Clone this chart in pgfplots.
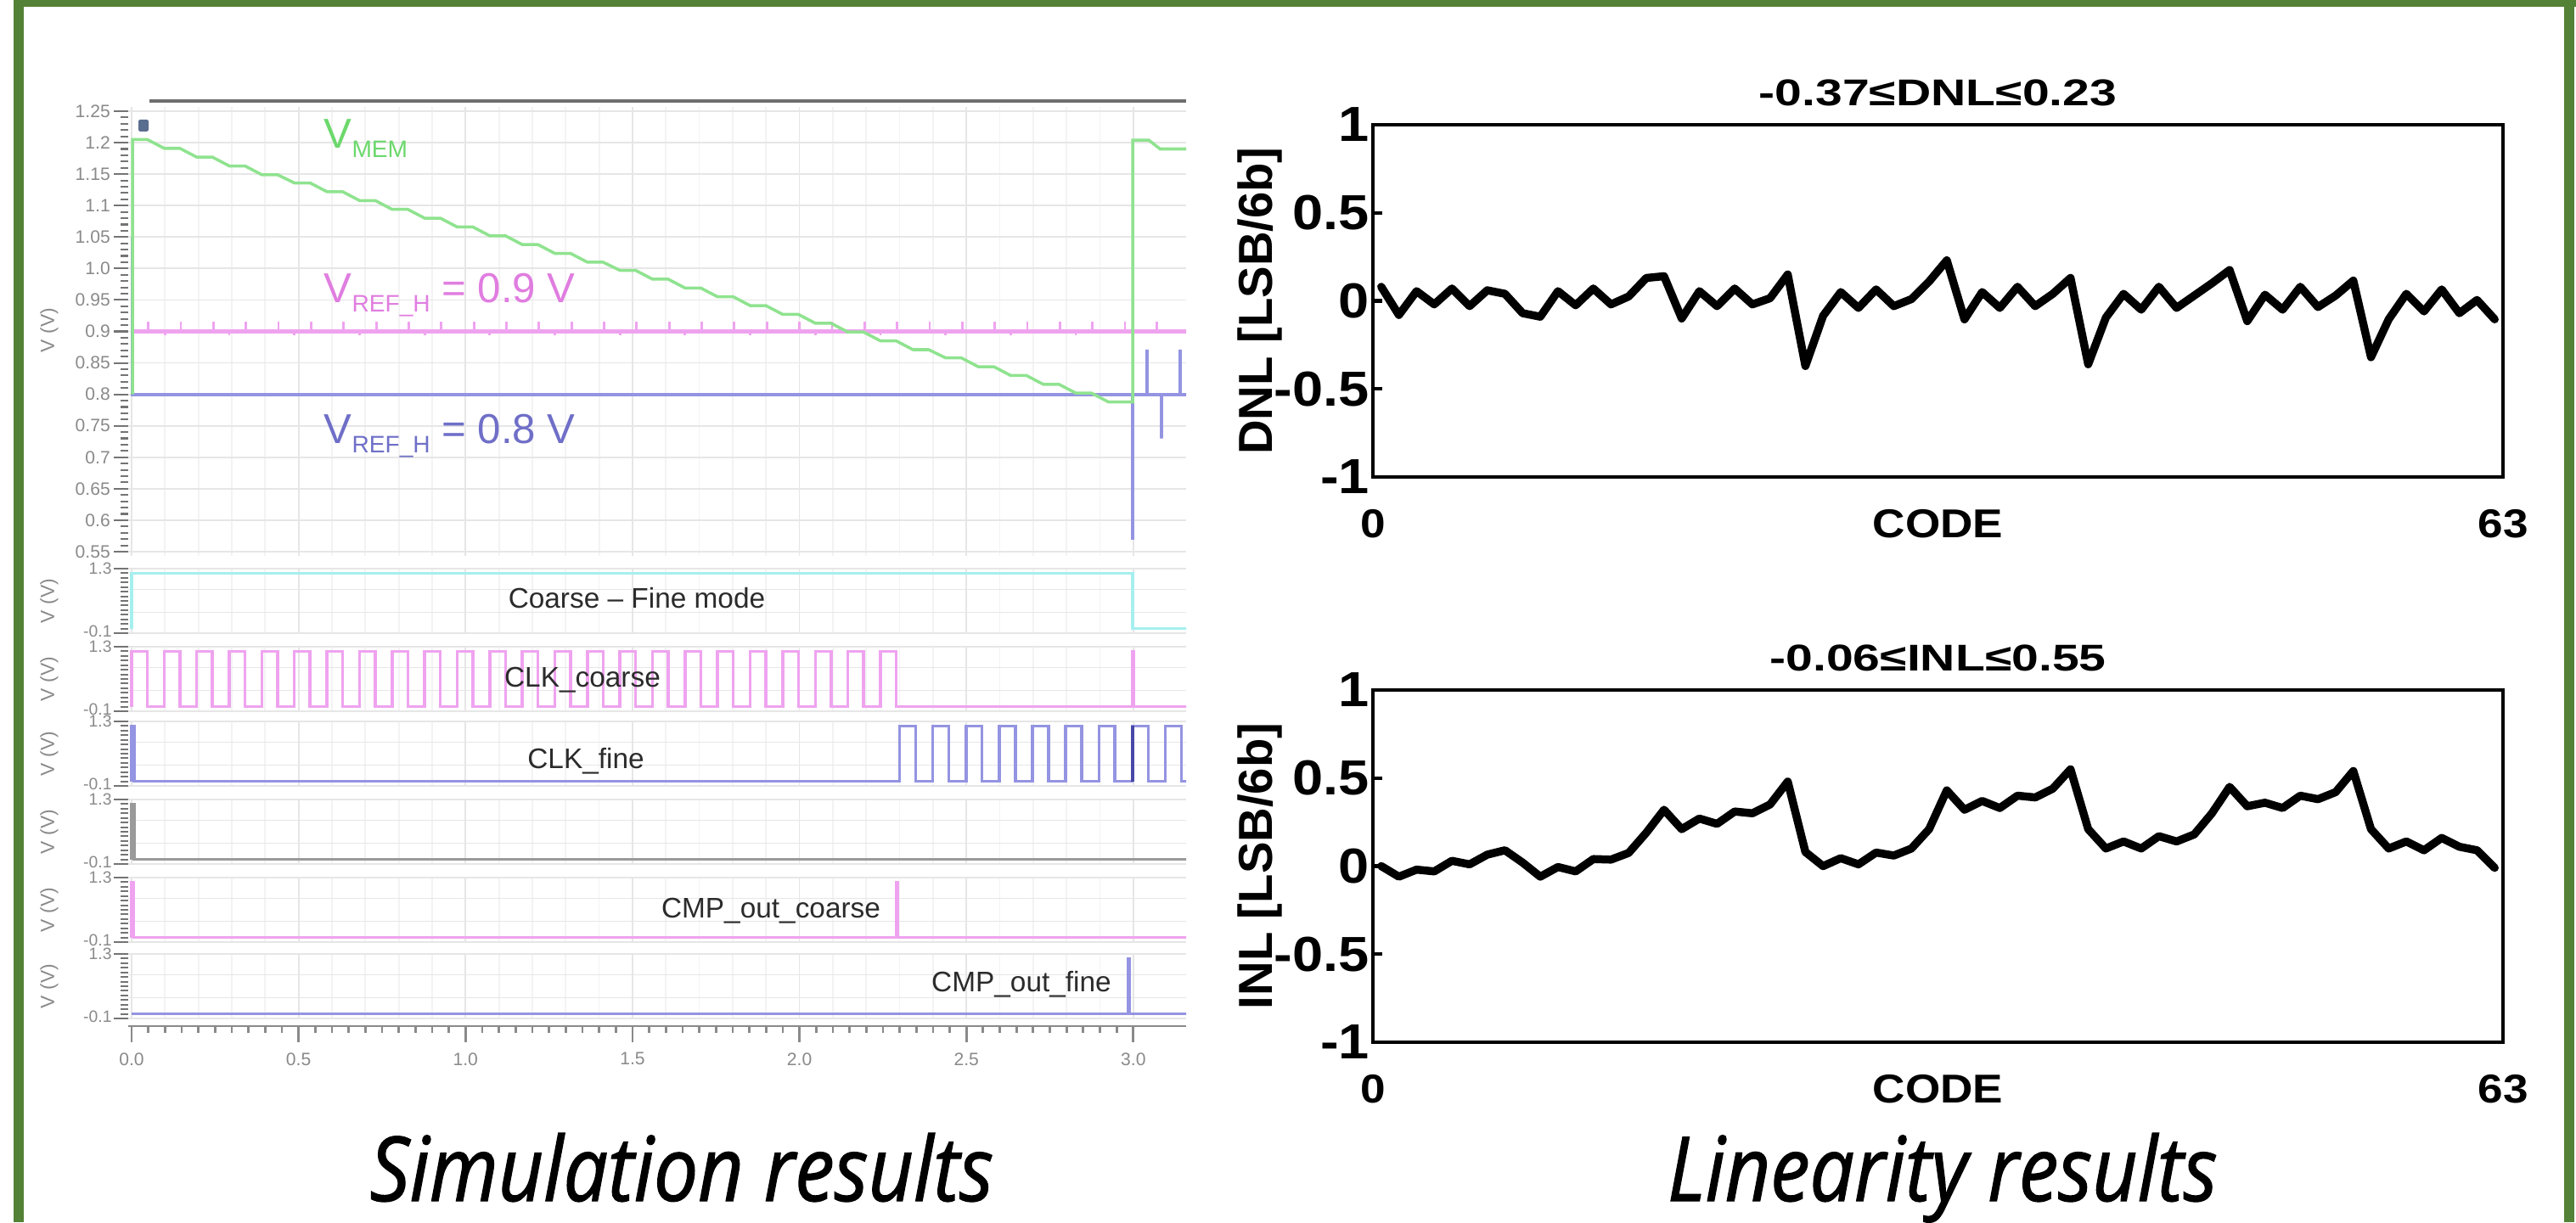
\documentclass[border=0pt]{standalone}
\usepackage{fontspec}
\setmainfont{Liberation Sans}
\newfontfamily\capfont[FakeStretch=0.88, FakeBold=1.2]{Open Sans}
\newfontfamily\titfont[FakeStretch=1.3]{Liberation Sans}
\newfontfamily\tkfont[FakeStretch=1.12]{Liberation Sans}
\usepackage{pgfplots}
\pgfplotsset{compat=1.18}

\definecolor{framegreen}{HTML}{538135}
\definecolor{vmem}{HTML}{8FE38F}
\definecolor{vmemtxt}{HTML}{6CD86C}
\definecolor{pinkw}{HTML}{EFA3EF}
\definecolor{pinktxt}{HTML}{E07DE0}
\definecolor{pinkdk}{HTML}{C860C8}
\definecolor{bluew}{HTML}{9494E2}
\definecolor{bluetxt}{HTML}{6F6FC8}
\definecolor{bluedk}{HTML}{4848A8}
\definecolor{cyanw}{HTML}{A6EFEF}
\definecolor{grayw}{HTML}{9A9A9A}
\definecolor{gridc}{HTML}{E6E6E6}
\definecolor{gridm}{HTML}{F3F3F3}
\definecolor{tickc}{HTML}{8A8A8A}
\definecolor{tickd}{HTML}{747474}
\definecolor{lblc}{HTML}{2B2B2B}
\definecolor{topline}{HTML}{6E6E6E}
\definecolor{lockc}{HTML}{5A6E90}

\newcommand{\vsub}[1]{\raisebox{-0.11cm}{\fontsize{8}{8}\selectfont #1}}

\pgfplotsset{
  wave/.style={
    scale only axis, anchor=south west, width=12.46cm,
    xmin=-0.0102, xmax=3.158,
    axis line style={draw=none},
    xtick={0,0.5,1,1.5,2,2.5,3}, minor x tick num=4, xticklabels={},
    xtick style={draw=none},
    xmajorgrids, xminorgrids, ymajorgrids,
    major grid style={gridc, line width=0.5pt},
    minor grid style={gridm, line width=0.5pt},
    ytick pos=left, tick align=outside,
    ytick style={tickd, line width=0.6pt},
    major tick length=0.17cm, minor tick length=0.09cm,
    yticklabel style={font=\fontsize{6}{6}\selectfont, text=tickc, inner sep=1pt},
    every axis plot/.append style={line width=1pt},
  },
  dig/.style={wave, height=0.76cm, ymin=-0.1, ymax=1.3,
    ytick={-0.1,1.3}, yticklabels={\raisebox{1.2pt}{-0.1},\raisebox{-1.2pt}{1.3}},
    yticklabel style={font=\fontsize{5.5}{5.5}\selectfont, inner sep=0.5pt},
    minor y tick num=13,
    extra y ticks={0.35,0.85}, extra y tick labels={},
    extra y tick style={major tick length=0pt},
  },
  lin/.style={
    scale only axis, anchor=south west, width=13.31cm, height=4.15cm,
    xmin=-0.47, xmax=63.47, ymin=-1, ymax=1,
    axis line style={line width=1.2pt},
    xtick={-0.47,63.47}, xticklabels={0,63}, xtick style={draw=none},
    ytick={-1,-0.5,0,0.5,1}, yticklabels={-1,-0.5,0,0.5,1},
    ytick pos=left, tick align=inside, major tick length=0.11cm,
    ytick style={black, line width=1.2pt},
    yticklabel style={font=\tkfont\bfseries\fontsize{16.5}{16.5}\selectfont, inner sep=1pt},
    xticklabel style={font=\tkfont\bfseries\fontsize{13.5}{13.5}\selectfont, inner sep=0pt, yshift=-0.38cm},
    xlabel={CODE},
    xlabel style={font=\tkfont\bfseries\fontsize{13.5}{13.5}\selectfont, at={(axis description cs:0.5,0)}, anchor=north, inner sep=0pt, yshift=-0.38cm},
    ylabel style={font=\bfseries\fontsize{16}{16}\selectfont, at={(axis description cs:-0.1,0.5)}, anchor=center},
    title style={font=\titfont\bfseries\fontsize{12.5}{12.5}\selectfont, at={(axis description cs:0.5,1)}, anchor=base, yshift=0.01cm},
  },
}

\begin{document}
\begin{tikzpicture}
\useasboundingbox (0,0) rectangle (30.34,14.40);
\fill[white] (0,0) rectangle (30.34,14.40);
\fill[framegreen] (0.16,0) rectangle (0.28,14.40);
\fill[framegreen] (0.16,14.32) rectangle (30.34,14.40);
\fill[framegreen] (30.20,0) rectangle (30.32,14.40);

% ---------- simulation: analog panel ----------
\draw[topline, line width=0.04cm] (1.76,13.21) -- (13.97,13.21);
\fill[lockc, rounded corners=0.5pt] (1.63,12.85) rectangle (1.75,12.99);
\begin{axis}[wave, at={(1.51cm,7.852cm)}, height=5.286cm,
  ymin=0.5435, ymax=1.2565,
  ytick={0.55,0.6,0.65,0.7,0.75,0.8,0.85,0.9,0.95,1.0,1.05,1.1,1.15,1.2,1.25},
  yticklabels={0.55,0.6,0.65,0.7,0.75,0.8,0.85,0.9,0.95,1.0,1.05,1.1,1.15,1.2,1.25},
  minor y tick num=4]
% V_REF_H = 0.9 V
\addplot[pinkw, line width=1.4pt] coordinates {(0,0.9) (3.16,0.9)};
\addplot[pinkw, line width=0.8pt, unbounded coords=jump] coordinates {
(0.05,0.9)(0.05,0.916)(0.05,nan) (0.1475,0.9)(0.1475,0.916)(0.1475,nan)
(0.245,0.9)(0.245,0.916)(0.245,nan) (0.3425,0.9)(0.3425,0.916)(0.3425,nan)
(0.44,0.9)(0.44,0.916)(0.44,nan) (0.5375,0.9)(0.5375,0.916)(0.5375,nan)
(0.635,0.9)(0.635,0.916)(0.635,nan) (0.7325,0.9)(0.7325,0.916)(0.7325,nan)
(0.83,0.9)(0.83,0.916)(0.83,nan) (0.9275,0.9)(0.9275,0.916)(0.9275,nan)
(1.025,0.9)(1.025,0.916)(1.025,nan) (1.1225,0.9)(1.1225,0.916)(1.1225,nan)
(1.22,0.9)(1.22,0.916)(1.22,nan) (1.3175,0.9)(1.3175,0.916)(1.3175,nan)
(1.415,0.9)(1.415,0.916)(1.415,nan) (1.5125,0.9)(1.5125,0.916)(1.5125,nan)
(1.61,0.9)(1.61,0.916)(1.61,nan) (1.7075,0.9)(1.7075,0.916)(1.7075,nan)
(1.805,0.9)(1.805,0.916)(1.805,nan) (1.9025,0.9)(1.9025,0.916)(1.9025,nan)
(2.0,0.9)(2.0,0.916)(2.0,nan) (2.0975,0.9)(2.0975,0.916)(2.0975,nan)
(2.195,0.9)(2.195,0.916)(2.195,nan) (2.2925,0.9)(2.2925,0.916)(2.2925,nan)
(2.39,0.9)(2.39,0.916)(2.39,nan) (2.4875,0.9)(2.4875,0.916)(2.4875,nan)
(2.585,0.9)(2.585,0.916)(2.585,nan) (2.6825,0.9)(2.6825,0.916)(2.6825,nan)
(2.78,0.9)(2.78,0.916)(2.78,nan) (2.8775,0.9)(2.8775,0.916)(2.8775,nan)
(2.975,0.9)(2.975,0.916)(2.975,nan) (3.07,0.9)(3.07,0.916)(3.07,nan)
(0.1,0.9)(0.1,0.894)(0.1,nan) (0.2925,0.9)(0.2925,0.894)(0.2925,nan)
(0.4875,0.9)(0.4875,0.894)(0.4875,nan) (0.6825,0.9)(0.6825,0.894)(0.6825,nan)
(0.8775,0.9)(0.8775,0.894)(0.8775,nan) (1.0725,0.9)(1.0725,0.894)(1.0725,nan)
(1.2675,0.9)(1.2675,0.894)(1.2675,nan) (1.4625,0.9)(1.4625,0.894)(1.4625,nan)
(1.6575,0.9)(1.6575,0.894)(1.6575,nan) (1.8525,0.9)(1.8525,0.894)(1.8525,nan)
(2.0475,0.9)(2.0475,0.894)(2.0475,nan) (2.2425,0.9)(2.2425,0.894)(2.2425,nan)
(2.4375,0.9)(2.4375,0.894)(2.4375,nan) (2.6325,0.9)(2.6325,0.894)(2.6325,nan)
(2.8275,0.9)(2.8275,0.894)(2.8275,nan)};
\addplot[pinkdk, line width=0.8pt] coordinates {(2.998,0.9) (2.998,0.96)};
% V_REF_L = 0.8 V
\addplot[bluew, line width=1.2pt] coordinates {
(0.003,1.05)(0.003,0.8)(2.998,0.8)(2.998,0.569)(2.998,0.8)(3.04,0.8)(3.04,0.871)(3.04,0.8)
(3.085,0.8)(3.085,0.73)(3.085,0.8)(3.14,0.8)(3.14,0.871)(3.14,0.8)(3.16,0.8)};
% V_MEM
\addplot[vmem, line width=1pt] coordinates {
(0.003,0.80)(0.003,1.205)(0.047,1.205)(0.0975,1.191)(0.1445,1.191)(0.195,1.177)(0.242,1.177)
(0.2925,1.163)(0.3395,1.163)(0.39,1.149)(0.437,1.149)(0.4875,1.136)(0.5345,1.136)(0.585,1.122)
(0.632,1.122)(0.6825,1.108)(0.7295,1.108)(0.78,1.094)(0.827,1.094)(0.8775,1.080)(0.9245,1.080)
(0.975,1.066)(1.022,1.066)(1.0725,1.052)(1.1195,1.052)(1.17,1.038)(1.217,1.038)(1.2675,1.024)
(1.3145,1.024)(1.365,1.010)(1.412,1.010)(1.4625,0.997)(1.5095,0.997)(1.56,0.983)(1.607,0.983)
(1.6575,0.969)(1.7045,0.969)(1.755,0.955)(1.802,0.955)(1.8525,0.941)(1.8995,0.941)(1.95,0.927)
(1.997,0.927)(2.0475,0.913)(2.0945,0.913)(2.145,0.899)(2.192,0.899)(2.2425,0.885)(2.2895,0.885)
(2.34,0.871)(2.387,0.871)(2.4375,0.858)(2.4845,0.858)(2.535,0.844)(2.582,0.844)(2.6325,0.830)
(2.6795,0.830)(2.73,0.816)(2.777,0.816)(2.8275,0.802)(2.8745,0.802)(2.925,0.788)(2.998,0.788)
(2.998,1.204)(3.046,1.204)(3.08,1.19)(3.16,1.19)};
\end{axis}

% ---------- simulation: digital panels ----------
\begin{axis}[dig, at={(1.51cm,6.94cm)}]
\addplot[cyanw, const plot] coordinates {(0,0)(0,1.2)(2.998,0)(3.16,0)};
\end{axis}
\begin{axis}[dig, at={(1.51cm,6.02cm)}]
\addplot[pinkw, const plot] coordinates {
(0,0)(0,1.2)(0.047,0)(0.0975,1.2)(0.1445,0)(0.195,1.2)(0.242,0)(0.2925,1.2)(0.3395,0)(0.39,1.2)(0.437,0)
(0.4875,1.2)(0.5345,0)(0.585,1.2)(0.632,0)(0.6825,1.2)(0.7295,0)(0.78,1.2)(0.827,0)(0.8775,1.2)(0.9245,0)
(0.975,1.2)(1.022,0)(1.0725,1.2)(1.1195,0)(1.17,1.2)(1.217,0)(1.2675,1.2)(1.3145,0)(1.365,1.2)(1.412,0)
(1.4625,1.2)(1.5095,0)(1.56,1.2)(1.607,0)(1.6575,1.2)(1.7045,0)(1.755,1.2)(1.802,0)(1.8525,1.2)(1.8995,0)
(1.95,1.2)(1.997,0)(2.0475,1.2)(2.0945,0)(2.145,1.2)(2.192,0)(2.2425,1.2)(2.2895,0)(2.998,1.2)(3.002,0)(3.16,0)};
\end{axis}
\begin{axis}[dig, at={(1.51cm,5.14cm)}]
\addplot[bluew, const plot] coordinates {
(0,0)(0,1.2)(0.008,0)(2.3,1.2)(2.348,0)(2.3995,1.2)(2.4475,0)(2.499,1.2)(2.547,0)(2.5985,1.2)(2.6465,0)
(2.698,1.2)(2.746,0)(2.7975,1.2)(2.8455,0)(2.897,1.2)(2.945,0)(2.9965,1.2)(3.0445,0)(3.096,1.2)(3.144,0)(3.16,0)};
\addplot[bluedk, line width=1.2pt] coordinates {(2.9985,0)(2.9985,1.2)};
\end{axis}
\begin{axis}[dig, at={(1.51cm,4.22cm)}]
\addplot[grayw, const plot] coordinates {(0,0)(0,1.2)(0.008,0)(3.16,0)};
\end{axis}
\begin{axis}[dig, at={(1.51cm,3.30cm)}]
\addplot[pinkw, const plot] coordinates {(0,0)(0,1.2)(0.006,0)(2.29,1.2)(2.294,0)(3.16,0)};
\end{axis}
\begin{axis}[dig, at={(1.51cm,2.40cm)}]
\addplot[bluew, const plot] coordinates {(0,0)(2.985,1.2)(2.989,0)(3.16,0)};
\end{axis}

% time axis
\begin{axis}[scale only axis, anchor=south west, at={(1.51cm,2.31cm)}, width=12.46cm, height=0.05cm,
  xmin=-0.0102, xmax=3.158, ymin=0, ymax=1,
  axis x line*=bottom, axis y line=none,
  x axis line style={tickc, line width=0.8pt, -},
  xtick={0,0.5,1,1.5,2,2.5,3}, xticklabels={0.0,0.5,1.0,1.5,2.0,2.5,3.0},
  minor x tick num=9, tick align=outside, major tick length=0.19cm, minor tick length=0.08cm,
  xtick style={tickc, line width=0.8pt},
  xticklabel style={font=\fontsize{6}{6}\selectfont, text=tickc}]
\addplot[draw=none] coordinates {(0,0)};
\end{axis}

% panel labels
\node[anchor=base west, inner sep=0, text=vmemtxt, font=\fontsize{14}{14}\selectfont] at (3.81,12.65) {V\vsub{MEM}};
\node[anchor=base west, inner sep=0, text=pinktxt, font=\fontsize{14}{14}\selectfont] at (3.81,10.83) {V\vsub{REF\_H} = 0.9 V};
\node[anchor=base west, inner sep=0, text=bluetxt, font=\fontsize{14}{14}\selectfont] at (3.81,9.17) {V\vsub{REF\_H} = 0.8 V};
\begin{scope}[every node/.style={text=lblc, font=\fontsize{9.5}{9.5}\selectfont}]
\node at (7.50,7.35) {Coarse -- Fine mode};
\node at (6.86,6.39) {CLK\_coarse};
\node at (6.90,5.43) {CLK\_fine};
\node at (9.08,3.67) {CMP\_out\_coarse};
\node at (12.03,2.80) {CMP\_out\_fine};
\end{scope}
\begin{scope}[every node/.style={rotate=90, text=tickc, font=\fontsize{6.5}{6.5}\selectfont}]
\node at (0.58,10.51) {V (V)};
\node at (0.58,7.32) {V (V)};
\node at (0.58,6.40) {V (V)};
\node at (0.58,5.52) {V (V)};
\node at (0.58,4.60) {V (V)};
\node at (0.58,3.68) {V (V)};
\node at (0.58,2.78) {V (V)};
\end{scope}

% ---------- linearity ----------
\begin{axis}[lin, at={(16.17cm,8.78cm)}, ylabel={DNL [LSB/6b]}, title={-0.37≤DNL≤0.23}]
\addplot[black, line width=2.7pt, line join=round, line cap=round] table[x=c, y=d] {
c d
0 0.08
1 -0.08
2 0.055
3 -0.02
4 0.07
5 -0.03
6 0.06
7 0.04
8 -0.07
9 -0.09
10 0.055
11 -0.025
12 0.07
13 -0.02
14 0.025
15 0.13
16 0.14
17 -0.10
18 0.055
19 -0.03
20 0.07
21 -0.02
22 0.015
23 0.15
24 -0.37
25 -0.085
26 0.05
27 -0.04
28 0.065
29 -0.03
30 0.01
31 0.11
32 0.23
33 -0.105
34 0.05
35 -0.04
36 0.08
37 -0.03
38 0.04
39 0.13
40 -0.36
41 -0.095
42 0.04
43 -0.05
44 0.08
45 -0.04
46 0.03
47 0.10
48 0.175
49 -0.115
50 0.035
51 -0.05
52 0.08
53 -0.035
54 0.03
55 0.115
56 -0.32
57 -0.105
58 0.04
59 -0.06
60 0.065
61 -0.07
62 0.005
63 -0.105
};
\end{axis}

\begin{axis}[lin, at={(16.17cm,2.12cm)}, ylabel={INL [LSB/6b]}, title={-0.06≤INL≤0.55}]
\addplot[black, line width=2.7pt, line join=round, line cap=round] table[x=c, y=i] {
c i
0 0.0
1 -0.06
2 -0.02
3 -0.03
4 0.03
5 0.01
6 0.065
7 0.09
8 0.02
9 -0.06
10 -0.005
11 -0.03
12 0.04
13 0.037
14 0.075
15 0.19
16 0.32
17 0.21
18 0.27
19 0.24
20 0.31
21 0.30
22 0.35
23 0.48
24 0.08
25 0.0
26 0.045
27 0.01
28 0.077
29 0.06
30 0.10
31 0.21
32 0.43
33 0.32
34 0.37
35 0.33
36 0.40
37 0.39
38 0.44
39 0.55
40 0.21
41 0.10
42 0.14
43 0.10
44 0.17
45 0.14
46 0.18
47 0.30
48 0.45
49 0.34
50 0.36
51 0.33
52 0.40
53 0.38
54 0.42
55 0.54
56 0.21
57 0.10
58 0.14
59 0.09
60 0.16
61 0.11
62 0.09
63 -0.01
};
\end{axis}

% captions
\node[anchor=base, inner sep=0, font=\capfont\itshape\fontsize{30}{30}\selectfont] at (8.03,0.25) {Simulation results};
\node[anchor=base, inner sep=0, font=\capfont\itshape\fontsize{30}{30}\selectfont] at (22.88,0.25) {Linearity results};
\end{tikzpicture}
\end{document}
